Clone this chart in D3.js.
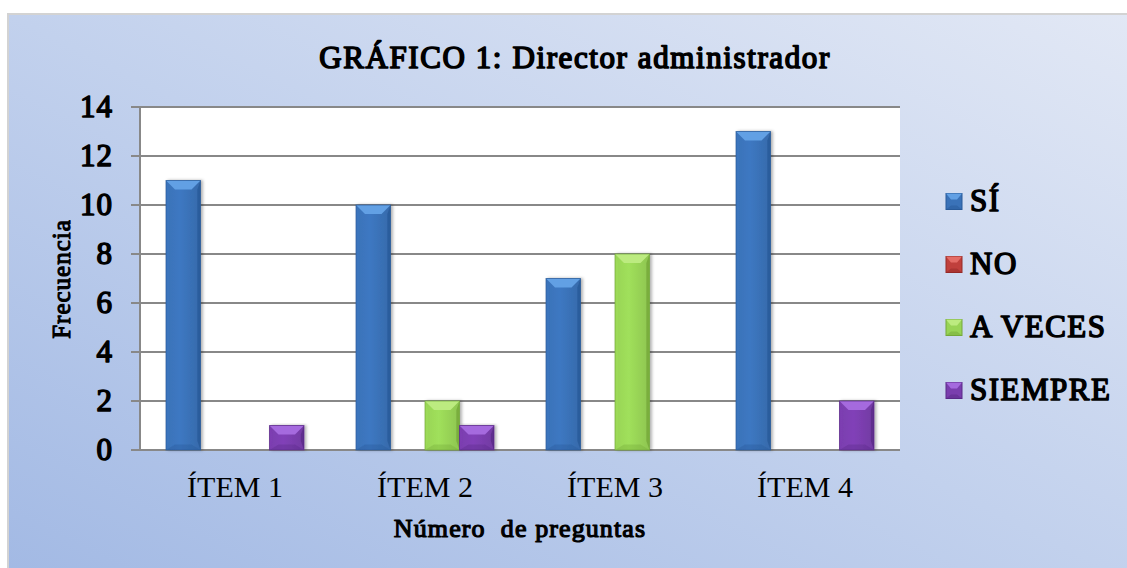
<!DOCTYPE html>
<html>
<head>
<meta charset="utf-8">
<script src="https://cdn.jsdelivr.net/npm/d3@7"></script>
<style>
  body { margin: 0; background: #fff; }
  svg { display: block; }
  text { font-family: "Liberation Serif", "Times New Roman", serif; fill: #000; }
  /* bold face is not available, thicken the regular one */
  text.b { font-weight: 400; stroke: #000; paint-order: stroke; stroke-linejoin: round; }
</style>
</head>
<body>
<script>
const items = ["ÍTEM 1", "ÍTEM 2", "ÍTEM 3", "ÍTEM 4"];
const seriesNames = ["SÍ", "NO", "A VECES", "SIEMPRE"];
const si = [11, 10, 7, 13];
const no = [0, 0, 0, 0];
const aVeces = [0, 2, 8, 0];
const siempre = [1, 1, 0, 2];
const yTicks = [0, 2, 4, 6, 8, 10, 12, 14];

const width = 1127, height = 568;
const margin = { top: 107, right: 227, bottom: 118, left: 140 };
const plotW = width - margin.left - margin.right;
const plotH = height - margin.top - margin.bottom;

// base / light (bevel top) / dark (sides)
const palette = {
  "SÍ":      ["#3a72b8", "#62a0e4", "#285a99"],
  "NO":      ["#c0403c", "#e46c66", "#952a27"],
  "A VECES": ["#98d456", "#bceb80", "#74a83a"],
  "SIEMPRE": ["#7a3eae", "#a56ade", "#5a2a88"]
};

const seriesValues = [si, no, aVeces, siempre];
const rows = items.map((item, i) => ({
  item,
  values: seriesNames.map((s, j) => ({ key: s, value: seriesValues[j][i] }))
}));

const svg = d3.select("body").append("svg")
  .attr("width", width)
  .attr("height", height);

const defs = svg.append("defs");
const bg = defs.append("linearGradient")
  .attr("id", "bg")
  .attr("x1", 0).attr("y1", 1).attr("x2", 1).attr("y2", 0);
bg.append("stop").attr("offset", 0).attr("stop-color", "#a2b9e4");
bg.append("stop").attr("offset", 0.5).attr("stop-color", "#c2d1ed");
bg.append("stop").attr("offset", 1).attr("stop-color", "#e2e8f5");

const shadow = defs.append("filter").attr("id", "shadow")
  .attr("x", "-20%").attr("y", "-10%").attr("width", "150%").attr("height", "120%");
shadow.append("feDropShadow")
  .attr("dx", 2).attr("dy", 0).attr("stdDeviation", 1.5)
  .attr("flood-color", "#000").attr("flood-opacity", 0.3);

seriesNames.forEach((s, i) => {
  const g = defs.append("linearGradient").attr("id", "bar" + i)
    .attr("x1", 0).attr("x2", 1).attr("y1", 0).attr("y2", 0);
  g.append("stop").attr("offset", 0).attr("stop-color", palette[s][0]);
  g.append("stop").attr("offset", 0.4).attr("stop-color", d3.color(palette[s][0]).brighter(0.15));
  g.append("stop").attr("offset", 1).attr("stop-color", d3.color(palette[s][0]).darker(0.2));
});

// chart area background
svg.append("rect")
  .attr("x", 8).attr("y", 14)
  .attr("width", width).attr("height", height)
  .attr("fill", "url(#bg)")
  .attr("stroke", "#d3d3d3")
  .attr("stroke-width", 2);

const x0 = d3.scaleBand()
  .domain(items)
  .range([margin.left, margin.left + plotW])
  .paddingInner(0.2737)
  .paddingOuter(0.1368);

const x1 = d3.scaleBand()
  .domain(seriesNames)
  .range([0, x0.bandwidth()]);

const y = d3.scaleLinear()
  .domain([0, 14])
  .range([margin.top + plotH, margin.top]);

// plot area
svg.append("rect")
  .attr("x", margin.left).attr("y", margin.top)
  .attr("width", plotW).attr("height", plotH)
  .attr("fill", "#fff");

// gridlines
svg.append("g")
  .selectAll("line")
  .data(yTicks)
  .join("line")
  .attr("x1", margin.left - 9)
  .attr("x2", margin.left + plotW)
  .attr("y1", d => y(d))
  .attr("y2", d => y(d))
  .attr("stroke", "#888")
  .attr("stroke-width", 2);

svg.append("line")
  .attr("x1", margin.left).attr("x2", margin.left)
  .attr("y1", y(14)).attr("y2", y(0))
  .attr("stroke", "#888").attr("stroke-width", 2);

// y axis labels
const yAxis = d3.axisLeft(y).tickValues(yTicks).tickSize(0).tickPadding(27);
svg.append("g")
  .attr("transform", `translate(${margin.left},0)`)
  .call(yAxis)
  .call(g => g.select(".domain").remove())
  .call(g => g.selectAll("text")
    .attr("class", "b")
    .attr("font-size", 31)
    .attr("stroke-width", 1.5)
    .attr("letter-spacing", 1)
    .attr("fill", "#000"));

// bevelled bar
function bevelBar(sel, x, top, w, h, key, i, b) {
  const [base, light, dark] = palette[key];
  b = Math.min(b, h / 2, w / 2);
  const g = sel.append("g").attr("filter", "url(#shadow)");
  g.append("rect").attr("x", x).attr("y", top).attr("width", w).attr("height", h)
    .attr("fill", `url(#bar${i})`);
  // top bevel
  g.append("polygon")
    .attr("points", [[x, top], [x + w, top], [x + w - b, top + b], [x + b, top + b]].join(" "))
    .attr("fill", light);
  // left bevel
  g.append("polygon")
    .attr("points", [[x, top], [x + b * 0.35, top + b], [x + b * 0.35, top + h - b], [x, top + h]].join(" "))
    .attr("fill", d3.color(base).brighter(0.1)).attr("opacity", 0.6);
  // right bevel
  g.append("polygon")
    .attr("points", [[x + w, top], [x + w - b * 0.35, top + b], [x + w - b * 0.35, top + h - b], [x + w, top + h]].join(" "))
    .attr("fill", dark).attr("opacity", 0.8);
  // bottom bevel
  g.append("polygon")
    .attr("points", [[x, top + h], [x + w, top + h], [x + w - b, top + h - b * 0.6], [x + b, top + h - b * 0.6]].join(" "))
    .attr("fill", dark).attr("opacity", 0.35);
  g.append("rect").attr("x", x).attr("y", top).attr("width", w).attr("height", h)
    .attr("fill", "none").attr("stroke", dark).attr("stroke-width", 1).attr("opacity", 0.7);
}

const groups = svg.append("g")
  .selectAll("g")
  .data(rows)
  .join("g")
  .attr("transform", d => `translate(${x0(d.item)},0)`);

groups.each(function (d) {
  const g = d3.select(this);
  d.values.forEach((v, i) => {
    if (v.value <= 0) return;
    bevelBar(g, x1(v.key), y(v.value), x1.bandwidth(), y(0) - y(v.value), v.key, i, 9);
  });
});

// x axis labels
svg.append("g")
  .selectAll("text")
  .data(items)
  .join("text")
  .attr("x", d => x0(d) + x0.bandwidth() / 2)
  .attr("y", 497)
  .attr("text-anchor", "middle")
  .attr("font-size", 30)
  .text(d => d);

// titles
svg.append("text")
  .attr("class", "b")
  .attr("x", 575).attr("y", 68)
  .attr("text-anchor", "middle")
  .attr("font-size", 31)
  .attr("stroke-width", 1.6)
  .attr("letter-spacing", 1.6)
  .text("GRÁFICO 1: Director administrador");

svg.append("text")
  .attr("class", "b")
  .attr("x", 520).attr("y", 537)
  .attr("text-anchor", "middle")
  .attr("font-size", 26)
  .attr("stroke-width", 1.2)
  .attr("letter-spacing", 1.1)
  .style("white-space", "pre")
  .text("Número  de preguntas");

svg.append("text")
  .attr("class", "b")
  .attr("transform", "translate(70,279) rotate(-90)")
  .attr("text-anchor", "middle")
  .attr("font-size", 25)
  .attr("stroke-width", 1.1)
  .attr("letter-spacing", 1)
  .text("Frecuencia");

// legend
const legend = svg.append("g")
  .selectAll("g")
  .data(seriesNames)
  .join("g")
  .attr("transform", (d, i) => `translate(946,${201.5 + i * 63})`);

legend.each(function (d, i) {
  const g = d3.select(this);
  const [base, light, dark] = palette[d];
  g.append("rect").attr("x", 0).attr("y", -8).attr("width", 16).attr("height", 16)
    .attr("fill", base).attr("stroke", dark).attr("stroke-width", 1);
  g.append("polygon").attr("points", "0,-8 16,-8 11,-2 5,-2").attr("fill", light);
  g.append("polygon").attr("points", "0,8 16,8 11,4 5,4").attr("fill", dark).attr("opacity", 0.5);
});

legend.append("text")
  .attr("class", "b")
  .attr("x", 24)
  .attr("y", 9)
  .attr("font-size", 31)
  .attr("stroke-width", 1.5)
  .attr("letter-spacing", 1.5)
  .text(d => d);
</script>
</body>
</html>
